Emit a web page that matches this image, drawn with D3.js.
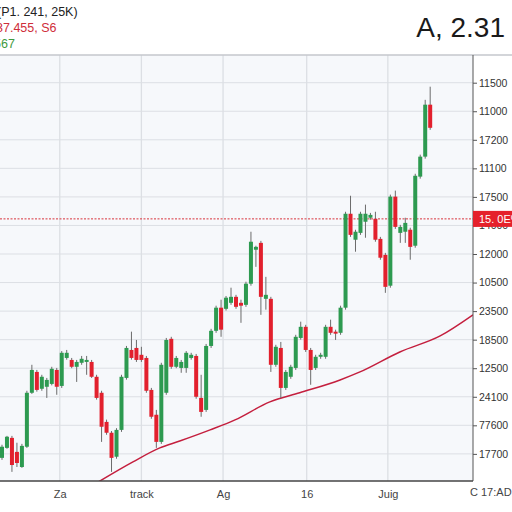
<!DOCTYPE html>
<html>
<head>
<meta charset="utf-8">
<script src="https://cdn.jsdelivr.net/npm/d3@7"></script>
<style>
  body { margin: 0; background: #fff; }
  svg { display: block; font-family: "Liberation Sans", Arial, sans-serif; }
</style>
</head>
<body>
<div class="chart"></div>
<script>
const width = 512;
const height = 512;

// candle values (price units of the internal scale)
const opens  = [98.6,102.1,105.6,100.7,95.4,102.5,121.4,128.7,122.8,123.5,124.5,129.4,123.8,133.6,132.9,130.5,131.9,132.2,132.2,127.0,
  121.4,111.2,107.4,99.0,108.4,126.6,136.4,137.1,134.7,133.6,122.4,113.7,104.2,121.4,140.3,130.5,130.1,130.1,133.6,134.3,
  119.6,115.4,137.8,143.1,151.2,150.8,152.9,155.0,152.9,152.2,159.6,171.5,173.9,154.3,154.3,131.2,137.1,123.1,127.0,130.1,
  140.6,144.5,136.4,130.1,134.0,134.0,144.5,142.8,142.4,151.2,184.1,175.0,177.4,181.3,182.7,182.3,175.3,169.7,158.9,190.1,
  177.4,177.8,178.5,172.9,197.1,204.1,222.3];
const highs  = [103.2,106.3,106.3,103.9,103.5,122.1,131.2,129.4,127.7,126.6,130.5,130.1,136.0,136.4,133.6,132.9,134.3,134.3,132.9,127.7,
  122.1,112.0,108.0,109.0,127.7,137.8,142.8,139.9,137.5,134.3,123.1,115.4,131.9,140.6,141.0,134.3,132.9,136.0,135.4,135.0,
  127.7,138.5,143.8,151.9,154.0,155.3,158.2,155.7,154.0,160.3,177.8,172.9,174.6,162.0,155.0,138.2,139.2,129.4,131.2,141.7,
  146.3,145.2,137.1,134.7,135.4,145.2,147.0,143.5,151.9,184.8,190.4,178.5,184.8,187.3,184.4,184.8,176.0,170.4,190.8,192.2,
  180.2,182.7,179.2,198.1,204.8,224.0,228.6];
const lows   = [97.9,101.8,93.7,95.4,95.1,102.1,121.0,121.8,122.1,119.6,124.0,120.7,123.1,133.0,130.0,125.2,131.2,127.7,126.6,119.0,
  104.2,106.7,93.7,98.3,107.7,126.0,133.0,132.2,132.2,121.4,112.3,102.1,103.5,120.7,129.8,130.0,128.4,128.4,133.0,119.3,
  113.0,114.7,137.1,142.4,141.0,150.2,152.2,150.8,145.9,151.5,158.9,165.5,148.7,150.5,128.7,130.5,119.6,122.4,126.3,129.4,
  140.0,135.7,124.2,129.4,133.3,133.3,141.7,139.9,141.7,150.5,176.0,170.8,176.7,175.7,182.0,174.3,168.0,156.4,158.2,178.8,
  173.9,173.9,168.0,172.2,196.4,203.4,213.5];
const closes = [102.5,106.0,96.1,96.8,102.8,121.4,129.4,122.4,127.0,125.9,129.8,123.5,135.4,135.4,130.5,132.2,133.3,132.9,127.0,119.6,
  109.5,107.4,98.6,108.4,127.0,137.1,133.6,132.9,132.9,122.1,113.0,104.2,131.2,139.9,130.5,133.6,132.2,135.4,134.7,120.0,
  114.7,137.8,143.1,151.2,143.5,154.7,155.0,151.5,151.9,159.6,174.3,172.5,155.0,155.7,131.2,137.5,123.1,128.7,130.5,141.0,
  144.5,136.4,129.4,134.0,134.7,144.5,142.4,142.1,151.2,184.1,176.7,177.8,184.1,184.1,183.7,175.0,168.7,158.5,190.1,179.5,
  179.5,180.9,172.5,197.4,204.1,222.3,214.2];

// moving average line (candle index, value)
const maIndex = [18.7, 26.3, 31.7, 35.7, 41.8, 46.8, 53.8, 59.8, 67.9, 71.9, 79.9, 88.0, 94.6];
const maValue = [89.5, 97.2, 102.1, 104.5, 108.4, 111.9, 118.2, 121.4, 125.9, 128.7, 135.7, 141.3, 148.7];

// axis ticks
const yTickValues = [100, 110, 120, 130, 140, 150, 160, 170, 180, 190, 200, 210, 220, 230];
const yTickLabels = ["17700", "77600", "24100", "12500", "18500", "23500", "10500", "12000", "14000", "17500", "11100", "17200", "11000", "11500"];
const xTickValues = [11.6, 28.0, 44.4, 61.2, 77.5];
const xTickLabels = ["Za", "track", "Ag", "16", "Juig"];

const lastPrice = 182.3;
const lastPriceLabel = "15. 0E%";

const plotLeft = 0, plotRight = 473, plotTop = 55, plotBottom = 481;

let svg = d3.select(".chart")
    .append("svg")
    .attr("width", width)
    .attr("height", height);

let x = d3.scaleLinear().domain([-0.4, 94.6]).range([plotLeft, plotRight]);
let y = d3.scaleLinear().domain([90.5, 239.7]).range([plotBottom, plotTop]);

svg.append("defs").append("clipPath").attr("id", "plot")
    .append("rect").attr("x", plotLeft).attr("y", plotTop)
    .attr("width", plotRight - plotLeft).attr("height", plotBottom - plotTop);

svg.append("rect")
    .attr("x", plotLeft).attr("y", plotTop)
    .attr("width", plotRight - plotLeft).attr("height", plotBottom - plotTop)
    .attr("fill", "#f6f8fb");

// grid
svg.append("g").selectAll("line")
    .data(yTickValues)
    .enter().append("line")
    .attr("x1", plotLeft).attr("x2", plotRight)
    .attr("y1", d => y(d)).attr("y2", d => y(d))
    .attr("stroke", "#dcdfe4");

svg.append("g").selectAll("line")
    .data(xTickValues)
    .enter().append("line")
    .attr("x1", d => x(d)).attr("x2", d => x(d))
    .attr("y1", plotTop).attr("y2", plotBottom)
    .attr("stroke", "#dcdfe4")
    .attr("stroke-width", 1.3);

// top border
svg.append("line")
    .attr("x1", 0).attr("x2", width)
    .attr("y1", plotTop).attr("y2", plotTop)
    .attr("stroke", "#c4c7cc").attr("stroke-width", 1.5);

let plot = svg.append("g").attr("clip-path", "url(#plot)");

// moving average
let maLine = d3.line()
    .x((d, i) => x(maIndex[i]))
    .y(d => y(d))
    .curve(d3.curveMonotoneX);

plot.append("path")
    .datum(maValue)
    .attr("d", maLine)
    .attr("fill", "none")
    .attr("stroke", "#c41f3e")
    .attr("stroke-width", 1.5);

// last price line
plot.append("line")
    .attr("x1", plotLeft).attr("x2", plotRight)
    .attr("y1", y(lastPrice)).attr("y2", y(lastPrice))
    .attr("stroke", "#d8333b")
    .attr("stroke-width", 1)
    .attr("stroke-dasharray", "2,1.5");

// candles
let candles = plot.append("g").selectAll("g")
    .data(opens.map((o, i) => ({ i: i, o: o, h: highs[i], l: lows[i], c: closes[i] })))
    .enter().append("g");

candles.append("line")
    .attr("x1", d => x(d.i)).attr("x2", d => x(d.i))
    .attr("y1", d => y(d.h)).attr("y2", d => y(d.l))
    .attr("stroke", "#6b6b6b")
    .attr("stroke-width", 1);

candles.append("rect")
    .attr("x", d => x(d.i) - 2)
    .attr("width", 4)
    .attr("y", d => y(Math.max(d.o, d.c)))
    .attr("height", d => Math.max(1.5, Math.abs(y(d.o) - y(d.c))))
    .attr("fill", d => d.c >= d.o ? "#2d9a50" : "#e2202d");

// axes
let yAxis = d3.axisRight(y)
    .tickValues(yTickValues)
    .tickSize(4)
    .tickFormat((d, i) => yTickLabels[i]);

let gy = svg.append("g")
    .attr("transform", `translate(${plotRight},0)`)
    .call(yAxis);
gy.select(".domain").attr("d", `M0,${plotTop}V${plotBottom}`).attr("stroke", "#555");
gy.selectAll(".tick line").attr("stroke", "#555");
gy.selectAll("text").attr("font-size", 10.5).attr("fill", "#333").attr("x", 6);

let xAxis = d3.axisBottom(x)
    .tickValues(xTickValues)
    .tickSize(0)
    .tickFormat((d, i) => xTickLabels[i]);

let gx = svg.append("g")
    .attr("transform", `translate(0,${plotBottom})`)
    .call(xAxis);
gx.select(".domain").attr("d", `M${plotLeft},0H${plotRight}`).attr("stroke", "#444").attr("stroke-width", 1.3);
gx.selectAll("text").attr("font-size", 11).attr("fill", "#444").attr("dy", "1.3em");

svg.append("text")
    .attr("x", plotRight - 3).attr("y", 496)
    .attr("font-size", 11).attr("fill", "#444")
    .text("C 17:AD");

// last price tag
svg.append("rect")
    .attr("x", plotRight).attr("y", y(lastPrice) - 8)
    .attr("width", width - plotRight).attr("height", 16)
    .attr("fill", "#e5212b");
svg.append("text")
    .attr("x", plotRight + 6).attr("y", y(lastPrice) + 4)
    .attr("font-size", 11).attr("fill", "#fff")
    .text(lastPriceLabel);

// header
svg.append("text")
    .attr("x", -3).attr("y", 16)
    .attr("font-size", 12.5).attr("fill", "#222")
    .text("(P1. 241, 25K)");
svg.append("text")
    .attr("x", -4).attr("y", 32)
    .attr("font-size", 12.5).attr("fill", "#cf2d3a")
    .text("37.455, S6");
svg.append("text")
    .attr("x", -6).attr("y", 48)
    .attr("font-size", 12.5).attr("fill", "#3f9a3f")
    .text("567");
svg.append("text")
    .attr("x", 505).attr("y", 37)
    .attr("text-anchor", "end")
    .attr("font-size", 28).attr("fill", "#1a1a1a")
    .text("A, 2.31");
</script>
</body>
</html>
